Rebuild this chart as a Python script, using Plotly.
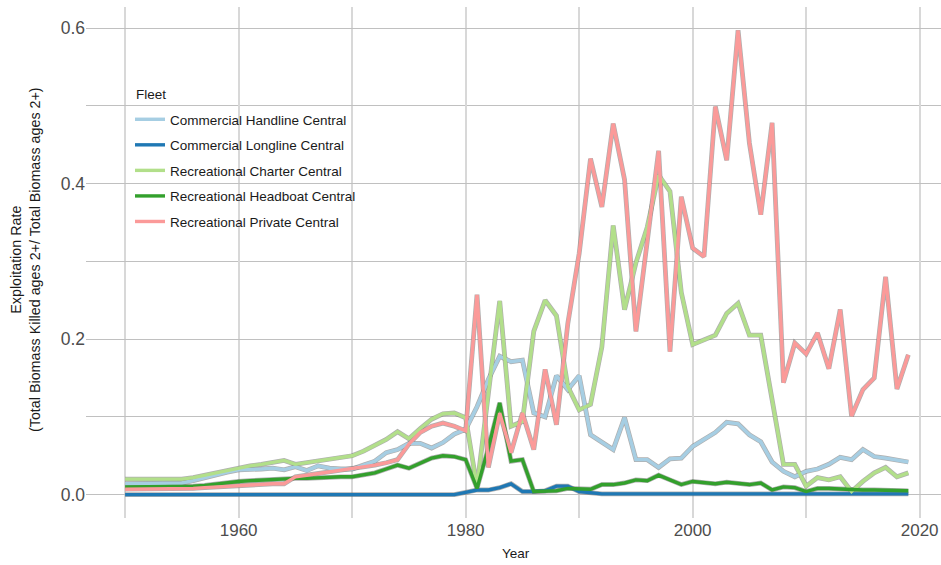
import plotly.graph_objects as go

years = list(range(1950, 2020))

handline = [0.014, 0.014, 0.014, 0.014, 0.014, 0.015, 0.018, 0.022, 0.026, 0.029,
            0.032, 0.032, 0.033, 0.034, 0.032, 0.036, 0.031, 0.037, 0.034, 0.033,
            0.033, 0.038, 0.043, 0.054, 0.058, 0.066, 0.066, 0.060, 0.067, 0.078,
            0.084, 0.113, 0.148, 0.178, 0.171, 0.173, 0.105, 0.100, 0.153, 0.135,
            0.153, 0.077, 0.068, 0.058, 0.099, 0.045, 0.045, 0.035, 0.046, 0.047,
            0.062, 0.071, 0.080, 0.093, 0.091, 0.077, 0.068, 0.042, 0.030, 0.023,
            0.030, 0.033, 0.039, 0.048, 0.045, 0.058, 0.049, 0.047, 0.044, 0.042]

longline = [0.0] * 30 + [
            0.003, 0.006, 0.006, 0.009, 0.014, 0.004, 0.004, 0.005, 0.011, 0.011,
            0.004, 0.002, 0.001, 0.001, 0.001, 0.001, 0.001, 0.001, 0.001, 0.001,
            0.001, 0.001, 0.001, 0.001, 0.001, 0.001, 0.001, 0.001, 0.001, 0.001,
            0.001, 0.001, 0.001, 0.001, 0.001, 0.001, 0.001, 0.0, 0.001, 0.001]

charter = [0.020, 0.020, 0.020, 0.020, 0.020, 0.020, 0.022, 0.025, 0.028, 0.032,
           0.035, 0.037, 0.039, 0.041, 0.044, 0.039, 0.041, 0.043, 0.045, 0.047,
           0.050, 0.056, 0.063, 0.071, 0.081, 0.072, 0.085, 0.097, 0.104, 0.105,
           0.099, 0.010, 0.130, 0.249, 0.088, 0.094, 0.210, 0.250, 0.230, 0.139,
           0.109, 0.116, 0.190, 0.346, 0.238, 0.298, 0.344, 0.411, 0.390, 0.260,
           0.193, 0.199, 0.205, 0.233, 0.246, 0.205, 0.205, 0.122, 0.039, 0.039,
           0.011, 0.022, 0.019, 0.023, 0.004, 0.017, 0.028, 0.035, 0.023, 0.028]

headboat = [0.010, 0.010, 0.010, 0.010, 0.010, 0.010, 0.011, 0.012, 0.014, 0.015,
            0.017, 0.018, 0.019, 0.019, 0.020, 0.021, 0.021, 0.022, 0.022, 0.023,
            0.023, 0.025, 0.028, 0.033, 0.038, 0.034, 0.040, 0.047, 0.050, 0.049,
            0.045, 0.008, 0.060, 0.118, 0.043, 0.045, 0.004, 0.004, 0.005, 0.008,
            0.008, 0.007, 0.013, 0.013, 0.015, 0.019, 0.018, 0.025, 0.019, 0.013,
            0.017, 0.015, 0.014, 0.016, 0.015, 0.013, 0.015, 0.006, 0.010, 0.009,
            0.004, 0.008, 0.008, 0.007, 0.006, 0.006, 0.006, 0.006, 0.006, 0.005]

private = [0.007, 0.007, 0.007, 0.007, 0.007, 0.007, 0.008, 0.009, 0.010, 0.011,
           0.012, 0.013, 0.013, 0.014, 0.014, 0.023, 0.025, 0.027, 0.029, 0.031,
           0.033, 0.035, 0.038, 0.041, 0.045, 0.065, 0.080, 0.088, 0.092, 0.088,
           0.082, 0.257, 0.035, 0.105, 0.054, 0.105, 0.058, 0.161, 0.090, 0.220,
           0.310, 0.432, 0.370, 0.477, 0.405, 0.210, 0.330, 0.442, 0.184, 0.383,
           0.317, 0.306, 0.499, 0.430, 0.597, 0.452, 0.360, 0.478, 0.144, 0.195,
           0.181, 0.208, 0.162, 0.238, 0.101, 0.135, 0.150, 0.280, 0.136, 0.180]

fleets = ["Commercial Handline Central", "Commercial Longline Central",
          "Recreational Charter Central", "Recreational Headboat Central",
          "Recreational Private Central"]
series = [handline, longline, charter, headboat, private]
colors = ["#A6CEE3", "#1F78B4", "#B2DF8A", "#33A02C", "#FB9A99"]

fig = go.Figure()

# thin grey casing under every line
for name, vals in zip(fleets, series):
    fig.add_trace(go.Scatter(x=years, y=vals, mode="lines", showlegend=False,
                             hoverinfo="skip",
                             line=dict(color="rgba(110,110,110,0.55)", width=4.8)))

for name, vals, col in zip(fleets, series, colors):
    fig.add_trace(go.Scatter(x=years, y=vals, mode="lines", name=name,
                             legendgroup=name,
                             line=dict(color=col, width=3.4)))

font_family = "Liberation Sans, Arial, sans-serif"
grid_h = "#c0c0c0"
grid_v = "#d8d8d8"

fig.update_layout(
    width=941, height=565,
    margin=dict(l=86, r=0, t=7, b=47),
    paper_bgcolor="white", plot_bgcolor="white",
    font=dict(family=font_family, color="#1a1a1a"),
    showlegend=True,
    legend=dict(
        x=(130 - 86) / 855, y=(518 - 104) / 511, xanchor="left", yanchor="top",
        bgcolor="rgba(0,0,0,0)",
        font=dict(size=13.5, color="#1a1a1a"),
        tracegroupgap=5,
        itemwidth=30,
    ),
    xaxis=dict(
        range=[1946.55, 1946.55 + 855 / 11.35],
        tickmode="linear", tick0=1960, dtick=20,
        showgrid=True, gridcolor=grid_v, gridwidth=2,
        minor=dict(tick0=1950, dtick=10, showgrid=True, gridcolor=grid_v, gridwidth=2),
        zeroline=False, showline=False, ticks="",
        tickfont=dict(size=17, color="#4d4d4d"),
    ),
    yaxis=dict(
        range=[-0.03, 0.627],
        tickmode="linear", tick0=0, dtick=0.2, tickformat=".1f",
        showgrid=True, gridcolor=grid_h, gridwidth=1.4,
        minor=dict(tick0=0.1, dtick=0.2, showgrid=True, gridcolor=grid_h, gridwidth=1.4),
        zeroline=False, showline=False, ticks="",
        tickfont=dict(size=17.5, color="#4d4d4d"),
    ),
    annotations=[
        dict(text="Fleet", xref="paper", yref="paper",
             x=(134 - 86) / 855, y=(518 - 94) / 511,
             xanchor="left", yanchor="middle", showarrow=False,
             font=dict(size=13.5, color="#1a1a1a")),
        dict(text="Year", xref="paper", yref="paper",
             x=(516 - 86) / 855, y=-(553 - 518) / 511,
             xanchor="center", yanchor="middle", showarrow=False,
             font=dict(size=13.5, color="#1a1a1a")),
        dict(text="Exploitation Rate<br>(Total Biomass Killed ages 2+/ Total Biomass ages 2+)",
             xref="paper", yref="paper",
             x=-(86 - 25) / 855, y=(518 - 260) / 511,
             xanchor="center", yanchor="middle", textangle=-90, showarrow=False,
             font=dict(size=14.3, color="#1a1a1a")),
    ],
)

fig.write_html("out.html")
